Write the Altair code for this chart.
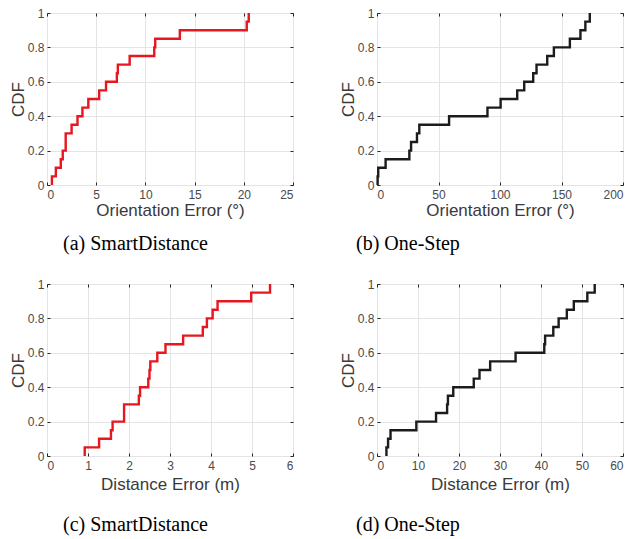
import altair as alt
import pandas as pd

# Samples (20 samples each)
sd_orient = [0.5, 0.9, 1.4, 1.6, 1.9, 1.9, 2.5, 3.1, 3.6, 4.2, 5.3, 6.0, 7.1, 7.2,
             8.4, 10.9, 11.0, 13.5, 20.3, 20.5]
os_orient = [0.5, 1.0, 7.0, 26.3, 27.7, 32.5, 34.4, 58.6, 89.8, 100.5, 114.0, 119.7,
             127.0, 129.7, 138.4, 143.8, 156.8, 165.4, 169.4, 173.0]
sd_dist = [0.92, 1.27, 1.56, 1.60, 1.88, 1.88, 2.24, 2.27, 2.47, 2.50, 2.52, 2.69,
           2.89, 3.32, 3.80, 3.90, 4.04, 4.16, 4.98, 5.44]
os_dist = [2.3, 2.7, 3.3, 9.6, 14.4, 17.1, 17.3, 18.6, 23.6, 25.0, 27.6, 33.8, 40.8,
           41.0, 43.0, 44.3, 46.3, 48.0, 51.3, 53.1]

y_ticks = [0, 0.2, 0.4, 0.6, 0.8, 1]
captions = ["(a) SmartDistance", "(b) One-Step", "(c) SmartDistance", "(d) One-Step"]
x_titles = ["Orientation Error (°)", "Orientation Error (°)", "Distance Error (m)", "Distance Error (m)"]

RED = "#e8161f"
BLACK = "#1c1c1c"
AX = "#262626"
W, H = 246, 172
TK = 3


def ecdf_frame(samples):
    xs = sorted(samples)
    n = len(xs)
    rows = [{"idx": 0, "x": xs[0], "cdf": 0.0}]
    for i, v in enumerate(xs, start=1):
        rows.append({"idx": i, "x": v, "cdf": i / n})
    return pd.DataFrame(rows)


def panel(samples, color, xmax, xstep, xtitle, caption, dx, tpad, cap_off):
    df = ecdf_frame(samples)
    xt = list(range(0, xmax + 1, xstep))
    base = alt.Chart(df)
    main = base.mark_line(interpolate="step-after", color=color, strokeWidth=2.4).encode(
        x=alt.X("x:Q", scale=alt.Scale(domain=[0, xmax], nice=False, zero=False),
                axis=alt.Axis(values=xt, title=xtitle, orient="bottom", offset=-TK,
                              tickSize=TK, labelPadding=4, titlePadding=tpad)),
        y=alt.Y("cdf:Q", scale=alt.Scale(domain=[0, 1], nice=False),
                axis=alt.Axis(values=y_ticks, format="~g", title="CDF", orient="left",
                              offset=-TK, tickSize=TK, labelPadding=3, titlePadding=0)),
        order="idx:Q",
    )
    ticks = base.mark_line(strokeOpacity=0).encode(
        x=alt.X("x:Q", axis=alt.Axis(values=xt, orient="top", offset=-TK, tickSize=TK,
                                     labels=False, grid=False, domain=False, title="")),
        y=alt.Y("cdf:Q", axis=alt.Axis(values=y_ticks, orient="right", offset=-TK, tickSize=TK,
                                       labels=False, grid=False, domain=False, title="")),
        order="idx:Q",
    )
    return alt.layer(main, ticks).resolve_axis(x="independent", y="independent").properties(
        width=W, height=H,
        title=alt.TitleParams(caption, orient="bottom", anchor="start", frame="group", dx=dx,
                              offset=cap_off, font="Liberation Serif", fontSize=20,
                              fontWeight="normal", color="black"),
    )


pa = panel(sd_orient, RED, 25, 5, x_titles[0], captions[0], 16, 2, 16)
pb = panel(os_orient, BLACK, 200, 50, x_titles[1], captions[1], -21, 2, 16)
pc = panel(sd_dist, RED, 6, 1, x_titles[2], captions[2], 16, 5, 23)
pd_ = panel(os_dist, BLACK, 60, 10, x_titles[3], captions[3], -21, 5, 23)

chart = alt.vconcat(
    alt.hconcat(pa, pb, spacing=44),
    alt.hconcat(pc, pd_, spacing=44),
    spacing=22,
).properties(
    padding={"left": 0, "top": -2, "right": 0, "bottom": 0}
).configure_view(
    stroke=AX, strokeWidth=1
).configure_axis(
    domain=False,
    tickColor=AX,
    tickWidth=1,
    gridColor="#e4e4e4",
    gridWidth=1,
    labelFont="Liberation Sans",
    labelFontSize=12,
    labelColor="#4a4a4a",
    titleFont="Liberation Sans",
    titleFontSize=17,
    titleFontWeight="normal",
    titleColor="#3a3a3a",
)

chart.save("out.html", embed_options={"renderer": "svg", "actions": False})
